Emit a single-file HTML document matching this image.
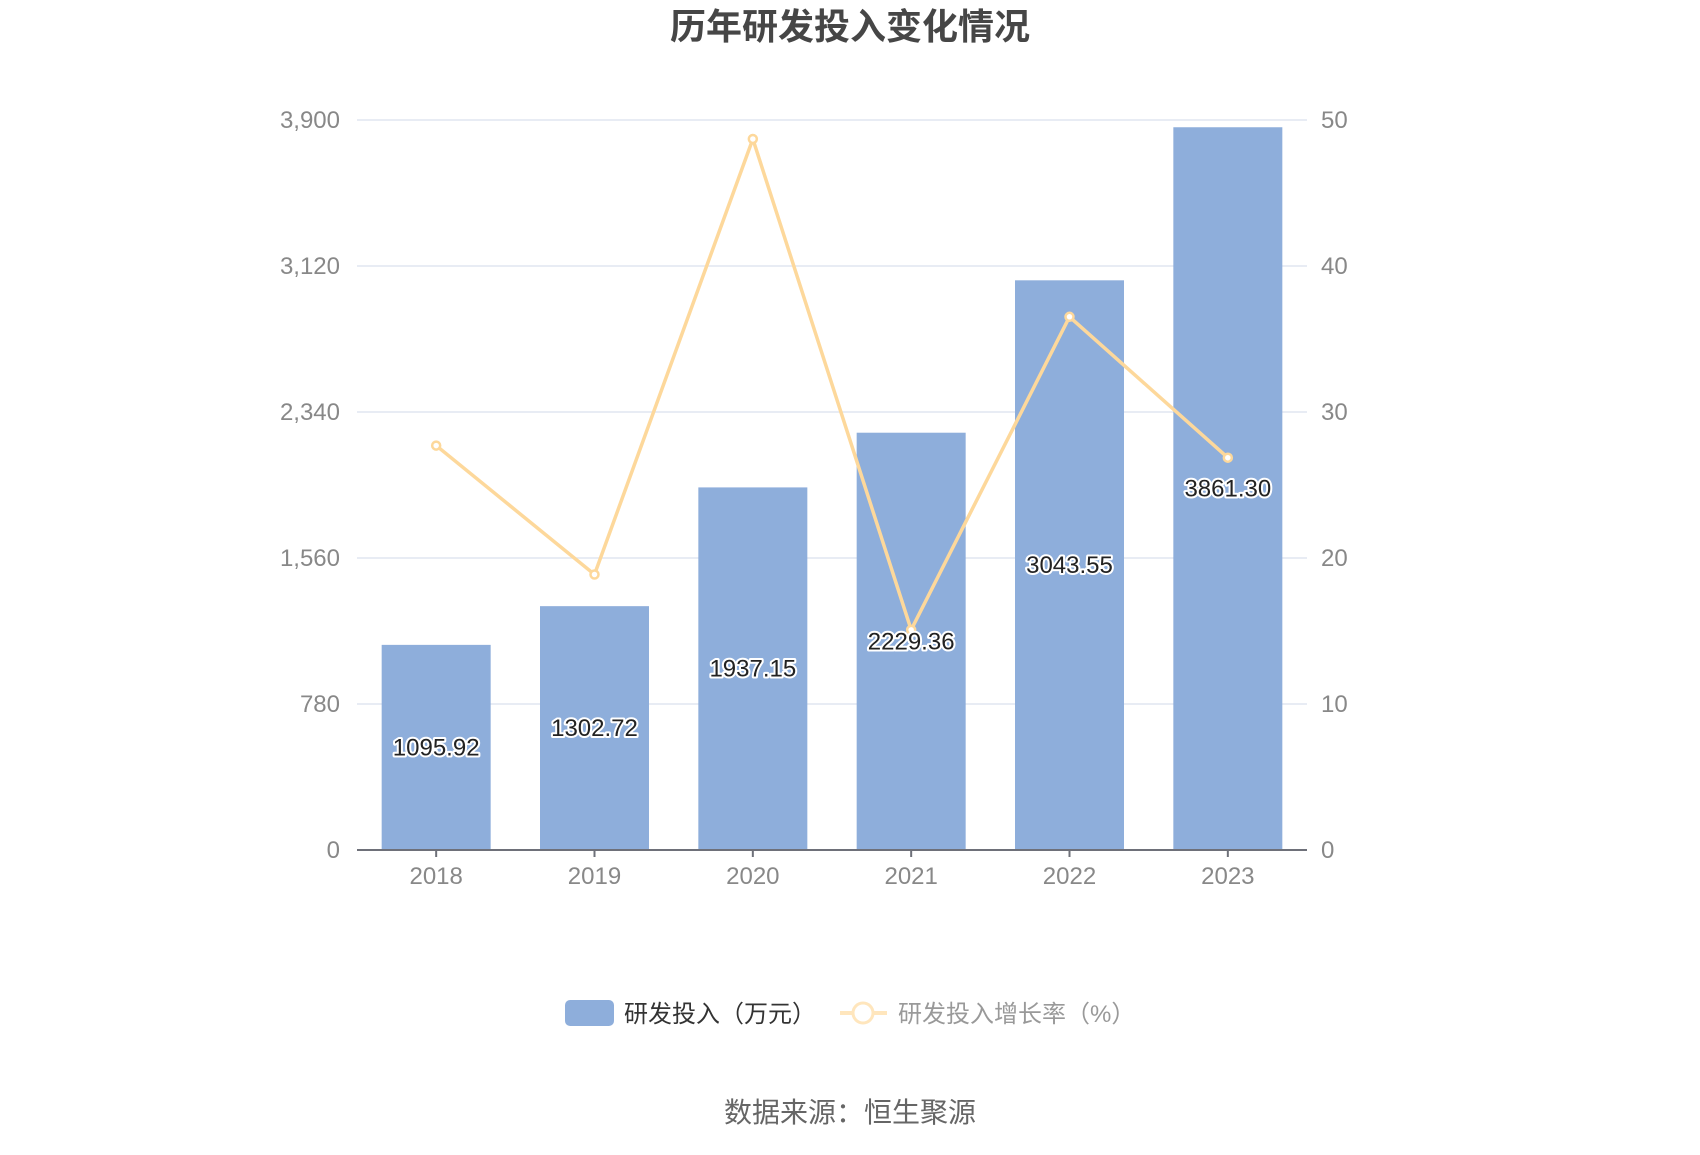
<!DOCTYPE html>
<html><head><meta charset="utf-8"><style>
body{margin:0;background:#fff;}
svg text{font-family:"Liberation Sans","Noto Sans CJK SC",sans-serif;}
</style></head><body>
<svg id="c" width="1700" height="1150" viewBox="0 0 1700 1150">
<text x="850" y="39" text-anchor="middle" font-size="36" font-weight="bold" fill="#464646">历年研发投入变化情况</text>
<g id="grid"></g><g id="bars"></g><g id="line"></g><g id="labels"></g>
<g>
<rect x="565" y="1000" width="49" height="26" rx="5" fill="#8eaedb"/>
<text x="624" y="1022" font-size="24" fill="#333">研发投入（万元）</text>
<line x1="840" y1="1013" x2="887" y2="1013" stroke="#ffe6bd" stroke-width="4"/>
<circle cx="863" cy="1013" r="10" fill="#fff" stroke="#ffe6bd" stroke-width="3"/>
<text x="898" y="1022" font-size="24" fill="#999">研发投入增长率（%）</text>
</g>
<text x="850" y="1122" text-anchor="middle" font-size="28" fill="#666">数据来源：恒生聚源</text>
</svg>
<script>
const categories=["2018","2019","2020","2021","2022","2023"];
const rdValues=[1095.92,1302.72,1937.15,2229.36,3043.55,3861.30];
const rdLabels=["1095.92","1302.72","1937.15","2229.36","3043.55","3861.30"];
const growthValues=[27.7,18.87,48.7,15.08,36.52,26.87];
const leftTicks=[0,780,1560,2340,3120,3900];
const leftTickLabels=["0","780","1,560","2,340","3,120","3,900"];
const rightTicks=[0,10,20,30,40,50];
const NS="http://www.w3.org/2000/svg";
const X0=357,X1=1307,Y0=850,Y1=120;
const band=(X1-X0)/categories.length;
const xc=i=>X0+band*(i+0.5);
const yL=v=>Y0-(v/3900)*(Y0-Y1);
const yR=v=>Y0-(v/50)*(Y0-Y1);
function mk(tag,attrs,parent){const e=document.createElementNS(NS,tag);for(const k in attrs)e.setAttribute(k,attrs[k]);parent.appendChild(e);return e;}
const grid=document.getElementById('grid');
leftTicks.forEach((t,i)=>{
  if(t>0){const g=mk('line',{x1:X0,x2:X1,y1:yL(t),y2:yL(t),stroke:'#e0e6f1','stroke-width':1.5},grid);
  
  }
  const l=mk('text',{x:340,y:yL(t)+8,'text-anchor':'end','font-size':24,fill:'#888'},grid);l.textContent=leftTickLabels[i];
  
  
});
rightTicks.forEach(t=>{
  const l=mk('text',{x:1321,y:yR(t)+8,'font-size':24,fill:'#888'},grid);l.textContent=t;
  
  
});
const bars=document.getElementById('bars');
const bw=109;
rdValues.forEach((v,i)=>{
  const r=mk('rect',{x:xc(i)-bw/2,y:yL(v),width:bw,height:Y0-yL(v),fill:'#8eaedb'},bars);
  
  
});
const ax=mk('line',{x1:X0,x2:X1,y1:Y0,y2:Y0,stroke:'#6e7079','stroke-width':2},bars);


categories.forEach((c,i)=>{
  const t=mk('line',{x1:xc(i),x2:xc(i),y1:Y0,y2:Y0+7,stroke:'#6e7079','stroke-width':2},bars);
  
  
  const l=mk('text',{x:xc(i),y:Y0+34,'text-anchor':'middle','font-size':24,fill:'#888'},bars);l.textContent=c;
  
  
});
const line=document.getElementById('line');
const pl=mk('polyline',{points:growthValues.map((v,i)=>xc(i)+','+yR(v)).join(' '),fill:'none',stroke:'#fdd89b','stroke-width':3.5},line);


growthValues.forEach((v,i)=>{
  const p=mk('circle',{cx:xc(i),cy:yR(v),r:4,fill:'#fff',stroke:'#fdd89b','stroke-width':2.5},line);
  
  
});
const labels=document.getElementById('labels');
rdValues.forEach((v,i)=>{
  const l=mk('text',{x:xc(i),y:(yL(v)+Y0)/2+8,'text-anchor':'middle','font-size':24,fill:'#222',stroke:'#fff','stroke-width':4,'paint-order':'stroke','stroke-linejoin':'round'},labels);
  l.textContent=rdLabels[i];
  
  
});
</script>
</body></html>
